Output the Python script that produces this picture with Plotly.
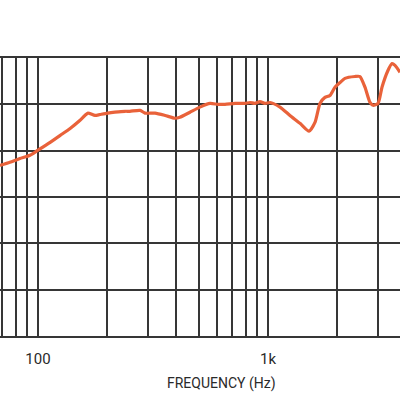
import plotly.graph_objects as go

# Frequency response (Hz, dB)
freq_hz = [68.4, 75.5, 83.5, 92.3, 100, 113, 125, 138, 152, 160, 165, 177, 186, 201, 216, 239,
           251, 278, 292, 323, 357, 394, 414, 458, 506, 560, 606, 650, 719, 794, 835, 878,
           923, 970, 1020, 1128, 1246, 1378, 1508, 1601, 1683, 1769, 1860, 1956, 2056, 2161,
           2389, 2512, 2641, 2777, 2862, 3009, 3131, 3324, 3460, 3567, 3750]
level_db = [-13.2, -12.5, -11.7, -11.0, -9.9, -8.2, -6.7, -5.2, -3.5, -2.4, -1.9, -2.4, -2.2,
            -1.9, -1.7, -1.5, -1.5, -1.3, -1.9, -1.9, -2.4, -3.0, -2.8, -1.7, -0.6, 0.2, 0.0,
            0.0, 0.2, 0.2, 0.4, 0.2, 0.6, 0.2, 0.4, -0.6, -2.4, -4.1, -5.8, -3.9, 0.2, 1.5,
            1.9, 3.7, 4.7, 5.6, 6.0, 6.0, 3.7, 0.4, -0.2, 0.2, 3.7, 7.3, 8.8, 8.4, 6.9]

grid_freqs = [70, 80, 90, 100, 200, 300, 400, 500, 600, 700, 800, 900, 1000, 2000, 3000]
grid_labels = ["", "", "", "100", "", "", "", "", "", "", "", "", "1k", "", ""]
db_ticks = [-40, -30, -20, -10, 0]

GRID = "#363636"
FONT = "Liberation Sans Narrow, Roboto, Liberation Sans, sans-serif"

fig = go.Figure()
fig.add_trace(go.Scatter(x=freq_hz, y=level_db, mode="lines",
                         line=dict(color="#E9623A", width=3.2, shape="spline", smoothing=0.6),
                         hoverinfo="skip", showlegend=False))

fig.update_layout(
    width=400, height=400,
    margin=dict(l=0, r=0, t=58, b=64),
    paper_bgcolor="white", plot_bgcolor="white",
    xaxis=dict(type="log", range=[1.835, 3.574],
               tickmode="array", tickvals=grid_freqs, ticktext=grid_labels,
               showgrid=True, gridcolor=GRID, gridwidth=2,
               showline=True, mirror=True, linecolor=GRID, linewidth=2,
               ticks="outside", ticklen=8, tickcolor="rgba(0,0,0,0)",
               tickfont=dict(family=FONT, size=15, color="#2a2a2a"),
               zeroline=False),
    yaxis=dict(range=[-50, 10], tickmode="array", tickvals=db_ticks,
               showticklabels=False, showgrid=True, gridcolor=GRID, gridwidth=2,
               zeroline=False, showline=False),
    annotations=[dict(text="FREQUENCY (Hz)", xref="paper", yref="paper",
                      x=0.554, y=-0.172, xanchor="center", yanchor="middle",
                      showarrow=False, font=dict(family=FONT, size=14, color="#2a2a2a"))],
)

fig.write_html("out.html")
